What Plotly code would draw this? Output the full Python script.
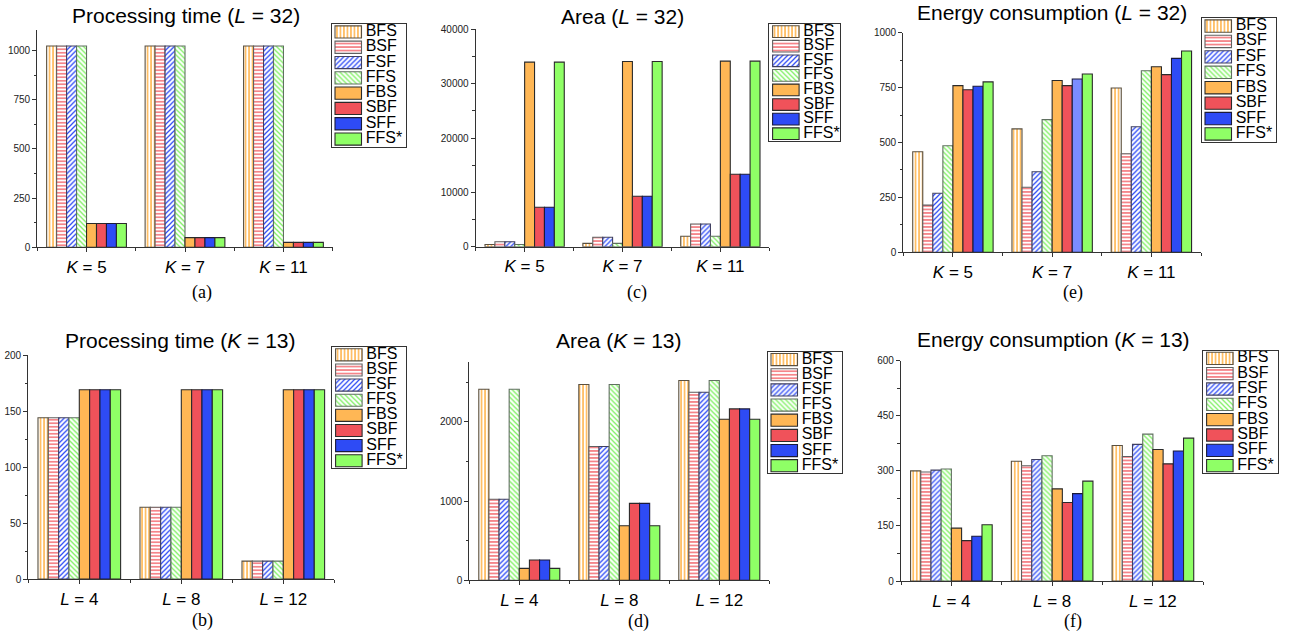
import plotly.graph_objects as go

W, H = 1298, 637
OFF = 0  # body margin removed below, so figure pixels equal window pixels

# ---------------- data ----------------
series = ["BFS", "BSF", "FSF", "FFS", "FBS", "SBF", "SFF", "FFS*"]
k_ticks = ["<i>K</i> = 5", "<i>K</i> = 7", "<i>K</i> = 11"]
l_ticks = ["<i>L</i> = 4", "<i>L</i> = 8", "<i>L</i> = 12"]

# rows follow the order of `series`, columns follow the tick labels
time_L32 = [
    [1024, 1024, 1024], [1024, 1024, 1024], [1024, 1024, 1024], [1024, 1024, 1024],
    [121, 49, 25], [121, 49, 25], [121, 49, 25], [121, 49, 25],
]
time_K13 = [
    [144, 64, 16], [144, 64, 16], [144, 64, 16], [144, 64, 16],
    [169, 169, 169], [169, 169, 169], [169, 169, 169], [169, 169, 169],
]
area_L32 = [
    [400, 620, 1910], [900, 1730, 4180], [900, 1730, 4180], [400, 620, 1910],
    [33960, 34070, 34140], [7250, 9280, 13330], [7250, 9280, 13330], [33960, 34070, 34140],
]
area_K13 = [
    [2412, 2472, 2522], [1024, 1690, 2375], [1024, 1690, 2375], [2412, 2472, 2522],
    [151, 689, 2034], [256, 971, 2164], [256, 971, 2164], [151, 689, 2034],
]
energy_L32 = [
    [458, 562, 748], [215, 296, 449], [269, 367, 572], [485, 604, 827],
    [759, 782, 845], [740, 759, 809], [756, 789, 883], [776, 812, 917],
]
energy_K13 = [
    [300, 326, 369], [297, 314, 339], [302, 331, 372], [305, 341, 400],
    [144, 251, 358], [110, 214, 319], [122, 238, 354], [153, 272, 389],
]

# ---------------- styles ----------------
SANS = "Liberation Sans, Arial, sans-serif"
SERIF = "Liberation Serif, Times New Roman, serif"
AX = "#333333"
pat_shapes = ["|", "-", "/", "\\", "", "", "", ""]
pat_fg = ["#FFA62B", "#F2555C", "#2E4BF5", "#7DF060", "#FFB755", "#F0525A", "#2E4BF5", "#8FFF66"]
fill_col = ["white", "white", "white", "white", "#FFB755", "#F0525A", "#2E4BF5", "#8FFF66"]
edge_col = ["#5a5040", "#606060", "#404060", "#607060", "#2a2a2a", "#2a2a2a", "#1a1a3a", "#2a2a2a"]
PSIZE, PSOL = 3.5, 0.36

# panel layout in pixels (window coordinates): plot x0, x1, y top, y bottom
panels = [
    dict(data=time_L32, ticks=k_ticks, title="Processing time (<i>L</i> = 32)", cap="(a)",
         x0=37.3, x1=332.7, yt=30.0, yb=247.3, yr=[0, 1105], dt=250, mdt=125,
         leg=(331.7, 406.0, 24.3, 146.7), tpos=(185.5, 15.0), cpos=(202.0, 292.0)),
    dict(data=area_L32, ticks=k_ticks, title="Area (<i>L</i> = 32)", cap="(c)",
         x0=475.7, x1=769.3, yt=29.3, yb=246.7, yr=[0, 40000], dt=10000, mdt=5000,
         leg=(769.3, 840.0, 24.3, 141.0), tpos=(622.5, 16.0), cpos=(636.7, 292.0)),
    dict(data=energy_L32, ticks=k_ticks, title="Energy consumption (<i>L</i> = 32)", cap="(e)",
         x0=903.3, x1=1201.0, yt=32.7, yb=252.3, yr=[0, 1000], dt=250, mdt=125,
         leg=(1201.7, 1276.0, 18.3, 141.7), tpos=(1051.7, 12.5), cpos=(1073.0, 292.0)),
    dict(data=time_K13, ticks=l_ticks, title="Processing time (<i>K</i> = 13)", cap="(b)",
         x0=28.3, x1=334.3, yt=355.0, yb=579.0, yr=[0, 200], dt=50, mdt=25,
         leg=(332.3, 406.0, 347.3, 468.3), tpos=(180.8, 340.0), cpos=(202.7, 620.0)),
    dict(data=area_K13, ticks=l_ticks, title="Area (<i>K</i> = 13)", cap="(d)",
         x0=469.3, x1=769.3, yt=361.7, yb=580.3, yr=[0, 2760], dt=1000, mdt=500,
         leg=(767.7, 841.7, 352.0, 473.3), tpos=(619.0, 340.7), cpos=(638.0, 621.7)),
    dict(data=energy_K13, ticks=l_ticks, title="Energy consumption (<i>K</i> = 13)", cap="(f)",
         x0=901.0, x1=1203.3, yt=360.7, yb=581.0, yr=[0, 600], dt=150, mdt=75,
         leg=(1203.3, 1278.3, 350.7, 473.3), tpos=(1053.0, 339.3), cpos=(1073.0, 621.7)),
]


def px_x(v):
    return (v - OFF) / W


def px_y(v):
    return 1 - (v - OFF) / H


fig = go.Figure()
layout = {}
annotations = []

for i, p in enumerate(panels):
    n_main = 2 * i + 1
    n_leg = 2 * i + 2
    xm = "x" if n_main == 1 else f"x{n_main}"
    ym = "y" if n_main == 1 else f"y{n_main}"
    xl, yl = f"x{n_leg}", f"y{n_leg}"

    # bars
    for s, name in enumerate(series):
        col = fill_col[s]
        colors = [col, "#7B8CFF", col] if (i == 2 and name == "SFF") else col
        marker = dict(color=colors, line=dict(color=edge_col[s], width=1.1))
        if pat_shapes[s]:
            marker["pattern"] = dict(shape=pat_shapes[s], fgcolor=pat_fg[s], bgcolor="white",
                                     size=PSIZE, solidity=PSOL, fillmode="replace")
        fig.add_trace(go.Bar(x=[0, 1, 2], y=p["data"][s], name=name, marker=marker,
                             xaxis=xm, yaxis=ym, showlegend=False))

    layout["xaxis" if n_main == 1 else f"xaxis{n_main}"] = dict(
        domain=[px_x(p["x0"]), px_x(p["x1"])], range=[-0.5, 2.5], anchor=ym,
        automargin=False,
        tickmode="array", tickvals=[0, 1, 2], ticktext=p["ticks"],
        ticks="outside", ticklen=4, tickcolor=AX, tickwidth=1,
        minor=dict(tickmode="array", tickvals=[-0.5, 0.5, 1.5, 2.5], ticks="outside",
                   ticklen=3, tickcolor=AX),
        showline=True, linecolor=AX, linewidth=1.2, showgrid=False, zeroline=False,
        tickfont=dict(family=SANS, size=17, color="black"), fixedrange=True)
    layout["yaxis" if n_main == 1 else f"yaxis{n_main}"] = dict(
        domain=[px_y(p["yb"]), px_y(p["yt"])], range=p["yr"], anchor=xm,
        automargin=False, tickformat="d",
        tick0=0, dtick=p["dt"], ticks="outside", ticklen=4, tickcolor=AX,
        minor=dict(dtick=p["mdt"], tick0=0, ticks="outside", ticklen=2.5, tickcolor=AX),
        showline=True, linecolor=AX, linewidth=1.2, showgrid=False, zeroline=False,
        tickfont=dict(family=SANS, size=10, color="#222222"), fixedrange=True)

    # custom legend box drawn on its own small axes
    # (with a per-point colour array, plotly draws the pattern lines in marker.color)
    lx0, lx1, ly0, ly1 = p["leg"]
    fig.add_trace(go.Bar(
        x=[26.5] * 8, y=list(range(8)), base=3.3, orientation="h", width=0.8,
        marker=dict(color=pat_fg, line=dict(color=edge_col, width=1.1),
                    pattern=dict(shape=pat_shapes, size=PSIZE, solidity=PSOL,
                                 fillmode="replace")),
        xaxis=xl, yaxis=yl, showlegend=False, hoverinfo="skip"))
    fig.add_trace(go.Scatter(
        x=[34.0] * 8, y=list(range(8)), mode="text", text=series,
        textposition="middle right", textfont=dict(family=SANS, size=16, color="black"),
        xaxis=xl, yaxis=yl, showlegend=False, hoverinfo="skip", cliponaxis=False))
    layout[f"xaxis{n_leg}"] = dict(
        domain=[px_x(lx0), px_x(lx1)], range=[0, lx1 - lx0], anchor=yl, automargin=False,
        showline=True, mirror=True, linecolor=AX, linewidth=1.2, showgrid=False,
        zeroline=False, showticklabels=False, ticks="", fixedrange=True)
    layout[f"yaxis{n_leg}"] = dict(
        domain=[px_y(ly1), px_y(ly0)], range=[7.5, -0.5], anchor=xl, automargin=False,
        showline=True, mirror=True, linecolor=AX, linewidth=1.2, showgrid=False,
        zeroline=False, showticklabels=False, ticks="", fixedrange=True)

    annotations.append(dict(text=p["title"], x=px_x(p["tpos"][0]), y=px_y(p["tpos"][1]),
                            xref="paper", yref="paper", xanchor="center", yanchor="middle",
                            showarrow=False, font=dict(family=SANS, size=21, color="black")))
    annotations.append(dict(text=p["cap"], x=px_x(p["cpos"][0]), y=px_y(p["cpos"][1]),
                            xref="paper", yref="paper", xanchor="center", yanchor="middle",
                            showarrow=False, font=dict(family=SERIF, size=18, color="black")))

fig.update_layout(
    template="none",
    width=W, height=H, margin=dict(l=0, r=0, t=0, b=0, pad=0),
    paper_bgcolor="white", plot_bgcolor="white",
    barmode="group", bargap=0.19, bargroupgap=0.0,
    annotations=annotations, showlegend=False, hovermode=False,
    **layout)

fig.write_html("out.html", config={"displayModeBar": False},
               post_script="document.body.style.margin='0px';")
